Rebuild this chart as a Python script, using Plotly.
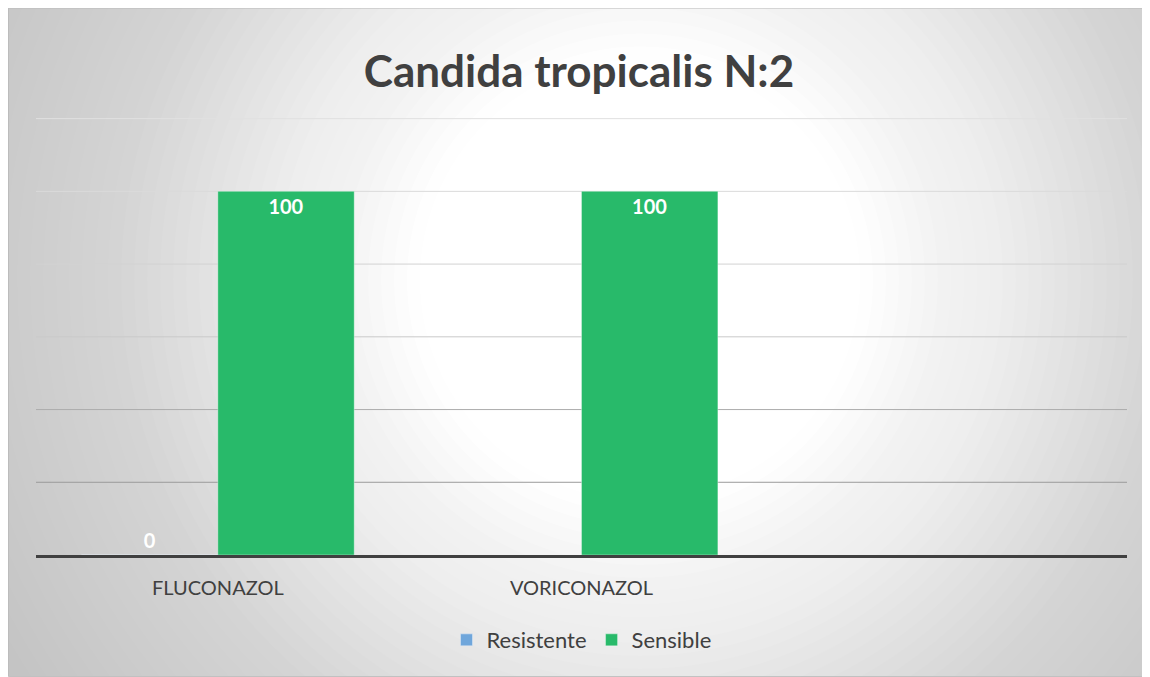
import plotly.graph_objects as go

# data
categories = ["FLUCONAZOL", "VORICONAZOL"]
resistente = [0, None]
sensible = [100, 100]
resistente_text = ["0", ""]
sensible_text = ["100", "100"]
grid_levels = [20, 40, 60, 80, 100, 120]
grid_colors = ["#9a9a9a", "#adadad", "#c9c9c9", "#d2d2d2", "#dadada", "#e0e0e0"]

# page has an 8px body margin, so figure px = screen px - 8
W, H = 1142, 669
L, R, B, Y120 = 28, 1119, 547, 111
YMAX = 121
T = B - (B - Y120) * YMAX / 120

def px(p):
    return (p - L) / (R - L)
def py(p):
    return (B - p) / (B - T)

fig = go.Figure()
fig.add_trace(go.Bar(
    x=categories, y=resistente, name="Resistente",
    marker=dict(color="#6fa6db"),
    text=resistente_text, textposition="outside", cliponaxis=False,
    textfont=dict(color="white", size=20, family="Lato", weight="bold"),
))
fig.add_trace(go.Bar(
    x=categories, y=sensible, name="Sensible",
    marker=dict(color="#28ba6a", line=dict(color="rgba(255,255,255,0.35)", width=1)),
    text=sensible_text, textposition="inside", insidetextanchor="end",
    textfont=dict(color="white", size=20, family="Lato", weight="bold"),
))

# background panel: grey with a radial white glow
base = 196
panel = dict(x0=0.5, x1=W - 0.5, y0=H - 0.5, y1=0.5)
shapes = [dict(type="rect", xref="paper", yref="paper",
               x0=px(panel["x0"]), x1=px(panel["x1"]), y0=py(panel["y0"]), y1=py(panel["y1"]),
               fillcolor="rgb(%d,%d,%d)" % (base, base, base), line=dict(width=0), layer="below")]

profile = [(0, 255), (220, 255), (360, 240), (570, 212), (740, 196)]
def shade(r):
    for (r0, c0), (r1, c1) in zip(profile, profile[1:]):
        if r <= r1:
            return c0 + (c1 - c0) * (r - r0) / (r1 - r0)
    return profile[-1][1]

cx, cy = 632, 272
radii = [740 - 13 * k for k in range(41)]  # 740 .. 220
prev_t = 1.0
for i, r in enumerate(radii):
    inner = radii[i + 1] if i + 1 < len(radii) else 0
    mid = (r + inner) / 2
    t = max((255 - shade(mid)) / (255 - base), 0.0)
    a = 1 - t / prev_t if prev_t > 0 else 0
    prev_t = t
    shapes.append(dict(type="circle", xref="paper", yref="paper",
                       x0=px(cx - r), x1=px(cx + r), y0=py(cy + r), y1=py(cy - r),
                       fillcolor="rgba(255,255,255,%.4f)" % min(max(a, 0), 1),
                       line=dict(width=0), layer="below"))

# mask glow outside the panel, then border
for x0, x1, y0, y1 in [(-2, px(panel["x0"]), -3, 3), (px(panel["x1"]), 3, -3, 3),
                       (-2, 3, py(panel["y1"]), 3), (-2, 3, -3, py(panel["y0"]))]:
    shapes.append(dict(type="rect", xref="paper", yref="paper", x0=x0, x1=x1, y0=y0, y1=y1,
                       fillcolor="white", line=dict(width=0), layer="below"))
shapes.append(dict(type="rect", xref="paper", yref="paper",
                   x0=px(panel["x0"]), x1=px(panel["x1"]), y0=py(panel["y0"]), y1=py(panel["y1"]),
                   fillcolor="rgba(0,0,0,0)", line=dict(color="#bcbcbc", width=1), layer="below"))

# gridlines (shade darkens toward the base line)
for lv, col in zip(grid_levels, grid_colors):
    shapes.append(dict(type="line", xref="paper", yref="y", x0=0, x1=1, y0=lv, y1=lv,
                       line=dict(color=col, width=1), layer="below"))

fig.update_layout(
    width=W, height=H,
    margin=dict(l=L, r=W - R, t=T, b=H - B),
    paper_bgcolor="white", plot_bgcolor="rgba(0,0,0,0)",
    font=dict(family="Lato", color="#404040"),
    title=dict(text="<b>Candida tropicalis N:2</b>", x=0.5, xanchor="center",
               yref="container", y=1 - 64 / H, yanchor="middle",
               font=dict(size=44, color="#404040", family="Lato")),
    barmode="group", bargap=0.25, bargroupgap=0,
    shapes=shapes,
    showlegend=True,
    legend=dict(orientation="h", x=0.5, xanchor="center", y=py(632), yanchor="middle",
                font=dict(size=22, color="#404040"), bgcolor="rgba(0,0,0,0)",
                itemwidth=30, traceorder="normal"),
    xaxis=dict(range=[-0.5, 2.5], showgrid=False, showline=True, linecolor="#404040",
               linewidth=3, ticks="outside", ticklen=13, tickcolor="rgba(0,0,0,0)",
               tickfont=dict(size=20, color="#404040"), zeroline=False),
    yaxis=dict(range=[0, YMAX], showgrid=False, showticklabels=False,
               zeroline=False, showline=False),
)

fig.write_html("out.html")
